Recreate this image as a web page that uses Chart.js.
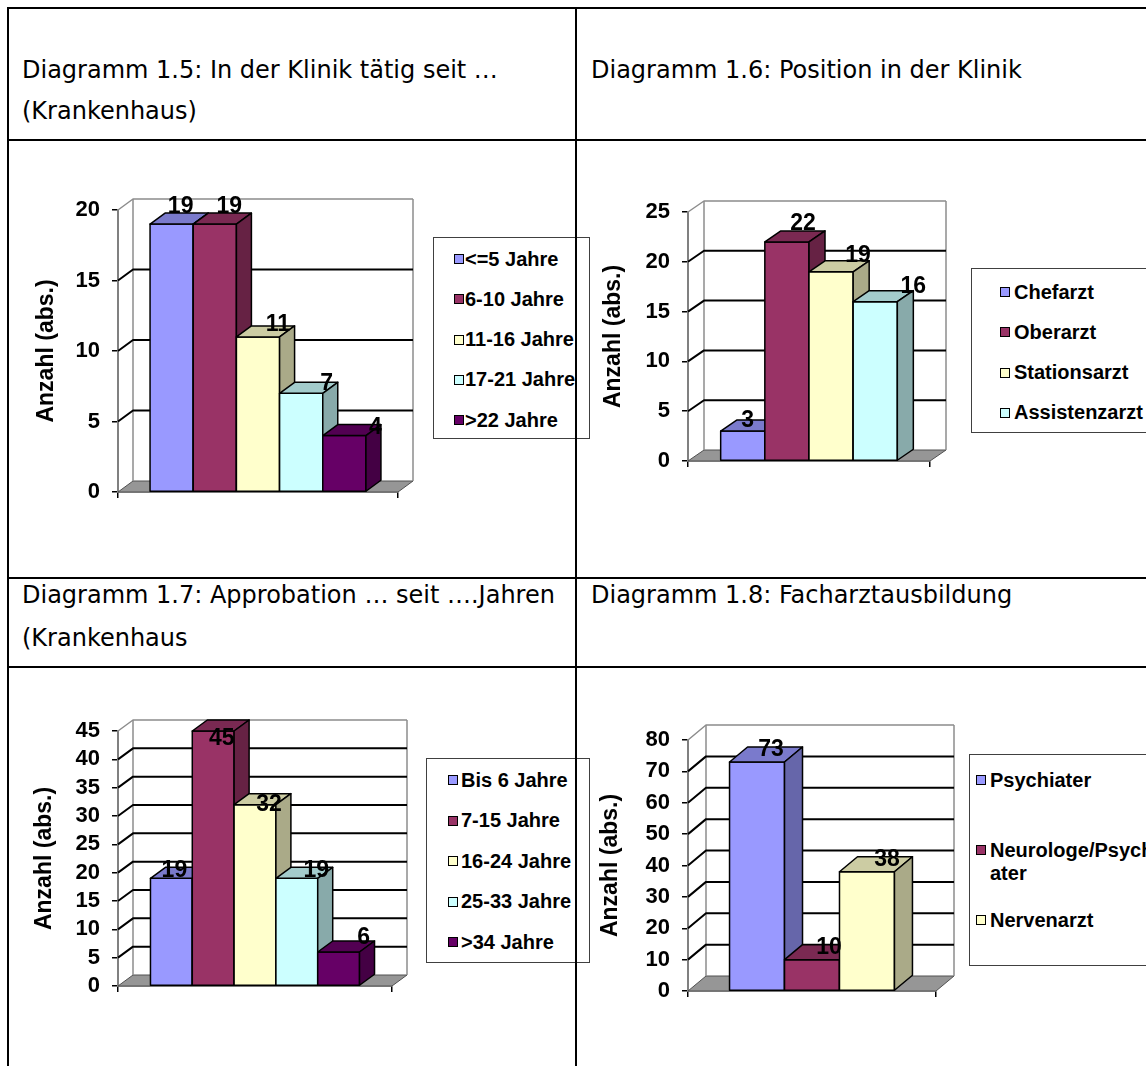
<!DOCTYPE html>
<html lang="de">
<head>
<meta charset="utf-8">
<title>Diagramme 1.5 - 1.8</title>
<script src="https://cdn.jsdelivr.net/npm/chart.js@4.4.1/dist/chart.umd.min.js"></script>
<style>
  html, body { margin: 0; padding: 0; background: #fff; }
  body { position: relative; width: 1146px; height: 1066px; overflow: hidden;
         font-family: "DejaVu Sans", Verdana, sans-serif; }
  .rule { position: absolute; background: #000; z-index: 5; }
  .head { position: absolute; font-size: 24px; color: #000; white-space: nowrap; }
  canvas { position: absolute; }
  .legend { position: absolute; box-sizing: border-box; border: 1px solid #404040; background: #fff;
            font: bold 20px "Liberation Sans", Arial, sans-serif; color: #000; }
  .legend .item { position: absolute; display: flex; align-items: flex-start; }
  .legend .swatch { flex: none; box-sizing: border-box; width: 10px; height: 10px; margin-top: 6.5px;
                    border: 1.5px solid #000; }
  .legend .txt { line-height: 23px; word-break: break-all; }
</style>
</head>
<body>

<div class="rule" style="left:7px;top:7px;width:1139px;height:2px"></div>
<div class="rule" style="left:7px;top:7px;width:2px;height:1059px"></div>
<div class="rule" style="left:575px;top:7px;width:2px;height:1059px"></div>
<div class="rule" style="left:7px;top:139px;width:1139px;height:2px"></div>
<div class="rule" style="left:7px;top:577px;width:1139px;height:2px"></div>
<div class="rule" style="left:7px;top:666px;width:1139px;height:2px"></div>

<div class="head" style="left:22px;top:50px;line-height:41px">Diagramm 1.5: In der Klinik tätig seit …<br>(Krankenhaus)</div>
<div class="head" style="left:591px;top:50px;line-height:41px">Diagramm 1.6: Position in der Klinik</div>
<div class="head" style="left:22px;top:574px;line-height:43px">Diagramm 1.7: Approbation … seit ….Jahren<br>(Krankenhaus</div>
<div class="head" style="left:591px;top:574px;line-height:43px">Diagramm 1.8: Facharztausbildung</div>

<canvas id="chartKlinik" width="566" height="436" style="left:9px;top:141px"></canvas>
<canvas id="chartPosition" width="568" height="436" style="left:578px;top:141px"></canvas>
<canvas id="chartApprobation" width="566" height="398" style="left:9px;top:668px"></canvas>
<canvas id="chartFacharzt" width="568" height="398" style="left:578px;top:668px"></canvas>

<div class="legend" id="legendKlinik"></div>
<div class="legend" id="legendPosition"></div>
<div class="legend" id="legendApprobation"></div>
<div class="legend" id="legendFacharzt"></div>

<script>
// Excel default fill colours, one per series
const seriesColors = ['#9999FF', '#993366', '#FFFFCC', '#CCFFFF', '#660066'];

// Diagramm 1.5: In der Klinik taetig seit ...
const klinikLabels = ['<=5 Jahre', '6-10 Jahre', '11-16 Jahre', '17-21 Jahre', '>22 Jahre'];
const klinikValues = [19, 19, 11, 7, 4];
const klinikTicks = [0, 5, 10, 15, 20];

// Diagramm 1.6: Position in der Klinik
const positionLabels = ['Chefarzt', 'Oberarzt', 'Stationsarzt', 'Assistenzarzt'];
const positionValues = [3, 22, 19, 16];
const positionTicks = [0, 5, 10, 15, 20, 25];

// Diagramm 1.7: Approbation seit ... Jahren
const approbationLabels = ['Bis 6 Jahre', '7-15 Jahre', '16-24 Jahre', '25-33 Jahre', '>34 Jahre'];
const approbationValues = [19, 45, 32, 19, 6];
const approbationTicks = [0, 5, 10, 15, 20, 25, 30, 35, 40, 45];

// Diagramm 1.8: Facharztausbildung
const facharztLabels = ['Psychiater', 'Neurologe/Psychiater', 'Nervenarzt'];
const facharztValues = [73, 10, 38];
const facharztTicks = [0, 10, 20, 30, 40, 50, 60, 70, 80];

const AXIS_FONT = "'Liberation Sans', Arial, sans-serif";

function shade(hex, f){
  const n = parseInt(hex.slice(1), 16);
  const r = Math.round(((n >> 16) & 255) * f);
  const g = Math.round(((n >> 8) & 255) * f);
  const b = Math.round((n & 255) * f);
  return `rgb(${r},${g},${b})`;
}

function face(ctx, pts, fill){
  ctx.beginPath();
  ctx.moveTo(pts[0][0], pts[0][1]);
  for(let k = 1; k < pts.length; k++) ctx.lineTo(pts[k][0], pts[k][1]);
  ctx.closePath();
  ctx.fillStyle = fill;
  ctx.fill();
  ctx.stroke();
}

// draws floor, walls, gridlines and 3d columns in place of the flat bars
const bars3d = {
  id: 'bars3d',
  beforeDatasetsDraw(chart, args, o){
    const {ctx, chartArea: {left, right, top, bottom}} = chart;
    const ys = chart.scales.y;
    const dx = o.dx, dy = o.dy;
    ctx.save();
    ctx.lineJoin = 'round';

    // floor
    ctx.strokeStyle = '#505050';
    ctx.lineWidth = 1;
    face(ctx, [[left, bottom], [right, bottom], [right + dx, bottom + dy], [left + dx, bottom + dy]], '#969696');

    // back wall edges
    ctx.strokeStyle = '#8c8c8c';
    ctx.lineWidth = 1.5;
    [left + dx, right + dx].forEach(x => {
      ctx.beginPath();
      ctx.moveTo(x, bottom + dy);
      ctx.lineTo(x, ys.getPixelForValue(ys.max) + dy);
      ctx.stroke();
    });

    // gridlines across side wall and back wall
    ys.ticks.forEach(t => {
      if(t.value === ys.min) return;
      const y = ys.getPixelForValue(t.value);
      const isTop = t.value === ys.max;
      ctx.strokeStyle = isTop ? '#8c8c8c' : '#000';
      ctx.lineWidth = isTop ? 1.5 : 2;
      ctx.beginPath();
      ctx.moveTo(left, y);
      ctx.lineTo(left + dx, y + dy);
      ctx.lineTo(right + dx, y + dy);
      ctx.stroke();
    });

    // columns, left to right so each one covers its neighbour's side
    ctx.strokeStyle = '#000';
    ctx.lineWidth = 1.5;
    chart.data.datasets.forEach((ds, i) => {
      const el = chart.getDatasetMeta(i).data[0];
      const x0 = el.x - el.width / 2, x1 = el.x + el.width / 2;
      const yt = el.y, yb = el.base;
      const c = ds.backgroundColor;
      face(ctx, [[x0, yt], [x1, yt], [x1, yb], [x0, yb]], c);
      face(ctx, [[x0, yt], [x1, yt], [x1 + dx, yt + dy], [x0 + dx, yt + dy]], shade(c, 0.8));
      face(ctx, [[x1, yt], [x1 + dx, yt + dy], [x1 + dx, yb + dy], [x1, yb]], shade(c, 0.667));
    });
    ctx.restore();
    return false;
  },
  afterDraw(chart, args, o){
    const ctx = chart.ctx;
    ctx.save();
    ctx.font = `bold 23px ${AXIS_FONT}`;
    ctx.fillStyle = '#000';
    ctx.textAlign = 'center';
    ctx.textBaseline = 'middle';
    chart.data.datasets.forEach((ds, i) => {
      const el = chart.getDatasetMeta(i).data[0];
      const lx = el.x + o.labelDx + i * o.labelStep;
      const ly = el.y - (o.liftBase + o.liftK * (el.base - el.y));
      ctx.fillText(String(ds.data[0]), lx, ly);
    });
    ctx.restore();
  }
};

function makeChart(id, labels, values, ticks, g){
  const datasets = labels.map((name, i) => ({
    label: name,
    data: [values[i]],
    backgroundColor: seriesColors[i],
    borderWidth: 0
  }));

  return new Chart(document.getElementById(id), {
    type: 'bar',
    data: { labels: [''], datasets },
    plugins: [bars3d],
    options: {
      responsive: false,
      animation: false,
      devicePixelRatio: 1,
      categoryPercentage: g.catPct,
      barPercentage: 1,
      layout: { padding: { left: g.padLeft, top: g.padTop, right: g.padRight, bottom: g.padBottom } },
      plugins: {
        legend: { display: false },
        tooltip: { enabled: false },
        bars3d: g.depth
      },
      scales: {
        x: {
          grid: { display: true, drawOnChartArea: false, drawTicks: true, tickLength: 6, color: '#000', lineWidth: 1.5 },
          border: { display: true, color: '#404040', width: 1.5 },
          ticks: { display: false },
          afterFit(scale){ scale.height = 8; }
        },
        y: {
          min: ticks[0],
          max: ticks[ticks.length - 1],
          grid: { display: true, drawOnChartArea: false, drawTicks: true, tickLength: 6, color: '#000', lineWidth: 1.5 },
          border: { display: true, color: '#808080', width: 2 },
          ticks: {
            stepSize: ticks[1] - ticks[0],
            autoSkip: false,
            padding: 12,
            color: '#000',
            font: { family: AXIS_FONT, size: 22, weight: 'bold' }
          },
          title: {
            display: true,
            text: 'Anzahl (abs.)',
            color: '#000',
            padding: 0,
            font: { family: AXIS_FONT, size: 23, weight: 'bold' }
          },
          afterFit(scale){ scale.width = g.axisWidth; }
        }
      }
    }
  });
}

function buildLegend(id, labels, st){
  const box = document.getElementById(id);
  box.style.left = st.left + 'px';
  box.style.top = st.top + 'px';
  box.style.width = st.width + 'px';
  box.style.height = st.height + 'px';
  labels.forEach((name, i) => {
    const item = document.createElement('div');
    item.className = 'item';
    item.style.left = st.swatchX + 'px';
    item.style.top = (st.first + i * st.step - 11.5) + 'px';
    const sw = document.createElement('span');
    sw.className = 'swatch';
    sw.style.background = seriesColors[i];
    const txt = document.createElement('span');
    txt.className = 'txt';
    txt.style.marginLeft = st.gap + 'px';
    if(st.textWidth) txt.style.width = st.textWidth + 'px';
    else txt.style.whiteSpace = 'nowrap';
    txt.textContent = name;
    item.appendChild(sw);
    item.appendChild(txt);
    box.appendChild(item);
  });
}

window.addEventListener('DOMContentLoaded', () => {
  makeChart('chartKlinik', klinikLabels, klinikValues, klinikTicks, {
    catPct: 0.771, padLeft: 24, axisWidth: 85, padTop: 69, padRight: 177, padBottom: 77,
    depth: { dx: 15, dy: -11, labelDx: 9, labelStep: 5.5, liftBase: 5, liftK: 0.045 }
  });
  makeChart('chartPosition', positionLabels, positionValues, positionTicks, {
    catPct: 0.73, padLeft: 22, axisWidth: 88, padTop: 71, padRight: 216, padBottom: 108,
    depth: { dx: 16, dy: -11, labelDx: 5, labelStep: 11, liftBase: 9, liftK: 0.04 }
  });
  makeChart('chartApprobation', approbationLabels, approbationValues, approbationTicks, {
    catPct: 0.763, padLeft: 22, axisWidth: 87, padTop: 63, padRight: 183, padBottom: 72,
    depth: { dx: 15, dy: -11, labelDx: 3, labelStep: 5.5, liftBase: 18, liftK: -0.1 }
  });
  makeChart('chartFacharzt', facharztLabels, facharztValues, facharztTicks, {
    catPct: 0.665, padLeft: 19, axisWidth: 91, padTop: 72, padRight: 210, padBottom: 67,
    depth: { dx: 18, dy: -15, labelDx: 14, labelStep: 3, liftBase: 12, liftK: 0 }
  });

  buildLegend('legendKlinik', klinikLabels, { left: 433, top: 237, width: 157, height: 202, swatchX: 20, first: 21, step: 40.25, gap: 1 });
  buildLegend('legendPosition', positionLabels, { left: 971, top: 268, width: 200, height: 165, swatchX: 28, first: 23, step: 40.3, gap: 4 });
  buildLegend('legendApprobation', approbationLabels, { left: 426, top: 758, width: 164, height: 205, swatchX: 21, first: 21, step: 40.5, gap: 3 });
  buildLegend('legendFacharzt', facharztLabels, { left: 969, top: 754, width: 200, height: 212, swatchX: 6, first: 25, step: 70, gap: 4, textWidth: 174 });
});
</script>
</body>
</html>
